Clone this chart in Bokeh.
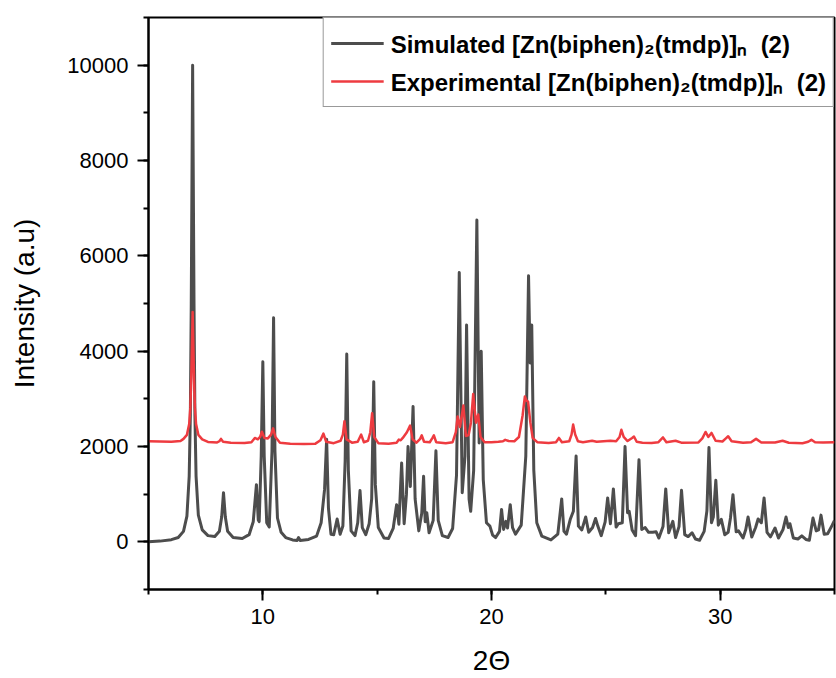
from bokeh.plotting import figure
from bokeh.models import Range1d, SingleIntervalTicker, Legend, LegendItem
from bokeh.embed import file_html
from bokeh.resources import INLINE

# ---- data (2-theta, intensity) ----
sim_x = [5.00, 5.50, 6.00, 6.30, 6.53, 6.68, 6.78, 6.83, 6.87, 6.93, 6.99, 7.03, 7.08, 7.18, 7.35, 7.60,
         7.90, 8.10, 8.20, 8.28, 8.36, 8.46, 8.70, 9.10, 9.40, 9.58, 9.72, 9.80, 9.84, 9.93, 10.00, 10.06,
         10.17, 10.28, 10.40, 10.47, 10.53, 10.64, 10.80, 11.00, 11.30, 11.50, 11.56, 11.63, 12.00, 12.35,
         12.55, 12.70, 12.79, 12.87, 12.98, 13.10, 13.25, 13.38, 13.50, 13.60, 13.67, 13.74, 13.86, 14.03,
         14.15, 14.25, 14.35, 14.50, 14.65, 14.76, 14.85, 14.92, 15.05, 15.30, 15.50, 15.70, 15.85, 15.95,
         16.07, 16.18, 16.28, 16.35, 16.45, 16.57, 16.66, 16.82, 16.95, 17.03, 17.10, 17.17, 17.27, 17.45,
         17.57, 17.67, 17.85, 18.10, 18.30, 18.47, 18.59, 18.72, 18.84, 18.91, 19.02, 19.09, 19.22, 19.36,
         19.46, 19.55, 19.64, 19.78, 19.93, 20.05, 20.18, 20.35, 20.44, 20.53, 20.63, 20.70, 20.82, 20.92,
         21.05, 21.30, 21.50, 21.62, 21.69, 21.76, 21.85, 21.98, 22.20, 22.60, 22.90, 23.07, 23.17, 23.28,
         23.45, 23.58, 23.70, 23.80, 23.95, 24.12, 24.25, 24.42, 24.55, 24.65, 24.80, 24.97, 25.08, 25.20,
         25.33, 25.45, 25.55, 25.72, 25.84, 25.95, 26.02, 26.15, 26.30, 26.45, 26.57, 26.72, 26.87, 27.05,
         27.20, 27.32, 27.50, 27.62, 27.75, 27.93, 28.05, 28.20, 28.31, 28.45, 28.60, 28.77, 28.92, 29.10,
         29.30, 29.42, 29.51, 29.62, 29.70, 29.81, 29.92, 30.05, 30.20, 30.35, 30.45, 30.56, 30.70, 30.80,
         31.00, 31.12, 31.22, 31.38, 31.55, 31.66, 31.80, 31.92, 32.05, 32.20, 32.40, 32.55, 32.75, 32.88,
         32.98, 33.05, 33.20, 33.40, 33.57, 33.75, 33.90, 34.06, 34.20, 34.30, 34.41, 34.55, 34.70, 34.90,
         35.00]
sim_y = [0, 15, 45, 90, 220, 540, 1380, 2650, 5000, 10000, 5000, 2650, 1380, 560, 250, 130,
         110, 220, 520, 1030, 520, 220, 90, 70, 150, 420, 1200, 460, 425, 1800, 3780, 1800,
         400, 310, 1900, 4700, 1900, 500, 200, 90, 40, 30, 90, 30, 50, 120,
         400, 1100, 2150, 700, 160, 150, 480, 160, 330, 1700, 3940, 1500, 230, 130,
         400, 1075, 300, 150, 380, 900, 3360, 1200, 300, 80, 70, 280, 780, 370,
         1655, 380, 1000, 2000, 1160, 2840, 900, 230, 600, 1375, 420, 610, 190, 450,
         1910, 450, 130, 90, 280, 1400, 5650, 1030, 1800, 4550, 900, 640, 1500, 6750,
         2075, 4000, 1300, 400, 330, 140, 90, 220, 680, 260, 430, 290, 780, 300,
         160, 350, 1800, 5580, 3750, 4550, 1500, 400, 120, 40, 160, 900, 220, 160,
         480, 640, 1800, 330, 250, 520, 200, 300, 490, 330, 130, 420, 920, 380,
         1110, 310, 380, 400, 2000, 610, 640, 250, 130, 1720, 260, 300, 200, 200,
         210, 80, 320, 1110, 190, 430, 90, 320, 1080, 150, 110, 190, 60, 34,
         220, 650, 1980, 400, 520, 1290, 350, 470, 150, 200, 500, 990, 210, 230,
         80, 260, 520, 100, 300, 480, 400, 920, 200, 105, 290, 80, 260, 520,
         300, 380, 80, 60, 125, 50, 34, 500, 230, 250, 560, 160, 170, 350,
         450]

exp_x = [5.00, 5.50, 6.00, 6.40, 6.53, 6.68, 6.78, 6.83, 6.87, 6.93, 6.99, 7.03, 7.08, 7.18, 7.35, 7.60,
         8.00, 8.10, 8.17, 8.26, 8.60, 9.20, 9.50, 9.65, 9.78, 9.88, 9.96, 10.07, 10.22, 10.36, 10.45, 10.55,
         10.75, 11.20, 11.80, 12.30, 12.52, 12.65, 12.77, 13.10, 13.40, 13.50, 13.57, 13.66, 13.90, 14.15,
         14.30, 14.42, 14.60, 14.70, 14.78, 14.87, 15.05, 15.50, 15.85, 15.95, 16.03, 16.12, 16.30, 16.44,
         16.55, 16.72, 16.88, 16.95, 17.05, 17.30, 17.42, 17.48, 17.58, 18.00, 18.30, 18.44, 18.52, 18.62,
         18.77, 18.88, 19.00, 19.10, 19.20, 19.32, 19.42, 19.52, 19.70, 20.00, 20.30, 20.50, 20.60, 20.75,
         21.00, 21.20, 21.36, 21.46, 21.53, 21.60, 21.70, 21.80, 22.00, 22.50, 22.82, 22.95, 23.08, 23.40,
         23.50, 23.57, 23.66, 23.78, 24.00, 24.40, 24.60, 24.90, 25.20, 25.45, 25.60, 25.68, 25.78, 25.95,
         26.15, 26.23, 26.35, 26.60, 27.00, 27.30, 27.50, 27.65, 28.05, 28.30, 29.05, 29.22, 29.36, 29.48,
         29.62, 29.80, 30.10, 30.25, 30.35, 30.50, 31.00, 31.35, 31.57, 31.80, 32.40, 32.73, 33.00, 33.60,
         33.85, 33.99, 34.15, 34.50, 35.00]
exp_y = [2110, 2105, 2100, 2115, 2160, 2245, 2470, 2815, 3450, 4820, 3450, 2815, 2470, 2245, 2150, 2095,
         2085, 2110, 2160, 2100, 2080, 2075, 2090, 2180, 2150, 2200, 2310, 2180, 2170, 2250, 2380, 2200,
         2080, 2060, 2055, 2060, 2130, 2270, 2100, 2070, 2120, 2250, 2530, 2150, 2080, 2100,
         2250, 2090, 2120, 2300, 2700, 2200, 2070, 2060, 2080, 2145, 2130, 2180, 2300, 2440,
         2150, 2080, 2160, 2235, 2100, 2090, 2180, 2235, 2090, 2070, 2090, 2300, 2630, 2410,
         2860, 2220, 2240, 2500, 3100, 2500, 2670, 2200, 2090, 2090, 2100, 2110, 2140, 2115,
         2110, 2200, 2650, 3050, 2960, 2940, 2500, 2180, 2090, 2075, 2090, 2180, 2090, 2110,
         2250, 2460, 2250, 2110, 2090, 2120, 2100, 2110, 2120, 2110, 2200, 2350, 2200, 2115,
         2180, 2210, 2100, 2080, 2075, 2090, 2190, 2090, 2120, 2080, 2085, 2170, 2305, 2200,
         2285, 2120, 2105, 2170, 2215, 2110, 2080, 2090, 2160, 2085, 2085, 2120, 2080, 2070,
         2100, 2140, 2090, 2085, 2090]

sim_label = "Simulated [Zn(biphen)\u2082(tmdp)]\u2099  (2)"
exp_label = "Experimental [Zn(biphen)\u2082(tmdp)]\u2099  (2)"
x_title = "2\u0398"
y_title = "Intensity (a.u)"

FONT = "Liberation Sans"

p = figure(width=836, height=678, x_range=Range1d(5, 35), y_range=Range1d(-1000, 11000),
           output_backend="svg", toolbar_location=None,
           min_border_left=148, min_border_right=2, min_border_top=17, min_border_bottom=88)
p.background_fill_color = "white"
p.border_fill_color = "white"
p.grid.visible = False
p.outline_line_color = "black"
p.outline_line_width = 2
p.outline_line_alpha = 1

r_sim = p.line(sim_x, sim_y, line_color="#4d4d4d", line_width=3, line_join="round")
r_exp = p.line(exp_x, exp_y, line_color="#ee3b40", line_width=2.5, line_join="round")

p.xaxis.ticker = SingleIntervalTicker(interval=10, num_minor_ticks=2)
p.yaxis.ticker = SingleIntervalTicker(interval=2000, num_minor_ticks=2)

for ax in (p.xaxis[0], p.yaxis[0]):
    ax.axis_line_width = 2
    ax.axis_line_color = "black"
    ax.major_tick_line_width = 2
    ax.minor_tick_line_width = 2
    ax.major_tick_line_color = "black"
    ax.minor_tick_line_color = "black"
    ax.major_tick_in = 0
    ax.major_tick_out = 11
    ax.minor_tick_in = 0
    ax.minor_tick_out = 5
    ax.major_label_text_font = FONT
    ax.major_label_text_font_size = "22px"
    ax.major_label_text_color = "black"
    ax.axis_label_text_font = FONT
    ax.axis_label_text_font_size = "28px"
    ax.axis_label_text_font_style = "normal"
    ax.axis_label_text_color = "black"

p.xaxis.axis_label = x_title
p.yaxis.axis_label = y_title
p.xaxis.major_label_standoff = 8
p.xaxis.axis_label_standoff = 18
p.yaxis.major_label_standoff = 9
p.yaxis.axis_label_standoff = 24

legend = Legend(items=[LegendItem(label=sim_label, renderers=[r_sim]),
                       LegendItem(label=exp_label, renderers=[r_exp])],
                location="top_right", margin=0, padding=7, spacing=2,
                glyph_width=53, glyph_height=36, label_height=36, label_standoff=7,
                label_text_font=FONT, label_text_font_size="24px",
                label_text_font_style="bold", label_text_color="black",
                border_line_color="#333333", border_line_width=1.5,
                background_fill_color="white", background_fill_alpha=1)
p.add_layout(legend)

open("out.html", "w").write(file_html(p, INLINE))
